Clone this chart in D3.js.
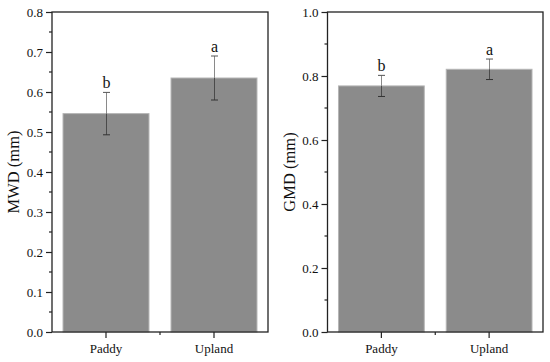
<!DOCTYPE html>
<html>
<head>
<meta charset="utf-8">
<script src="https://cdn.jsdelivr.net/npm/d3@7"></script>
<style>
  html, body { margin: 0; padding: 0; background: #fff; }
  svg { display: block; }
  svg text { font-family: "Liberation Serif", "Times New Roman", serif; fill: #111; }
</style>
</head>
<body>
<svg id="chart" width="550" height="362"></svg>
<script>
const categories = ["Paddy", "Upland"];
const mwdValues = [0.546, 0.635];
const mwdErrors = [0.053, 0.055];
const mwdLetters = ["b", "a"];
const gmdValues = [0.769, 0.821];
const gmdErrors = [0.033, 0.032];
const gmdLetters = ["b", "a"];
const mwdTicks = [0, 0.1, 0.2, 0.3, 0.4, 0.5, 0.6, 0.7, 0.8];
const gmdTicks = [0, 0.2, 0.4, 0.6, 0.8, 1.0];

const svg = d3.select("#chart");
const FONT = '"Liberation Serif", "Times New Roman", serif';

function panel(opts) {
  const {x0, x1, y0, y1, ymax, values, errors, letters, ticks, minorStep, title, titleX} = opts;
  const g = svg.append("g");
  const x = d3.scaleBand().domain(categories).range([x0, x1]).paddingInner(0.204).paddingOuter(0.102);
  const y = d3.scaleLinear().domain([0, ymax]).range([y1, y0]);

  // bars
  g.selectAll("rect.bar").data(categories).enter().append("rect")
    .attr("x", d => x(d))
    .attr("width", x.bandwidth())
    .attr("y", (d, i) => y(values[i]))
    .attr("height", (d, i) => y(0) - y(values[i]))
    .attr("fill", "#8b8b8b")
    .attr("stroke", "#b5b5b5")
    .attr("stroke-width", 1);

  // error bars
  categories.forEach((c, i) => {
    const cx = Math.round(x(c) + x.bandwidth() / 2) + 0.5;
    const top = y(values[i] + errors[i]);
    const bot = y(values[i] - errors[i]);
    const v = y(values[i]);
    g.append("line").attr("x1", cx).attr("x2", cx).attr("y1", top).attr("y2", v)
      .attr("stroke", "#8a8a8a").attr("stroke-width", 1);
    g.append("line").attr("x1", cx).attr("x2", cx).attr("y1", v).attr("y2", bot)
      .attr("stroke", "#4a4a4a").attr("stroke-width", 1);
    g.append("line").attr("x1", cx - 3.5).attr("x2", cx + 3.5).attr("y1", top).attr("y2", top)
      .attr("stroke", "#555").attr("stroke-width", 1);
    g.append("line").attr("x1", cx - 3.5).attr("x2", cx + 3.5).attr("y1", bot).attr("y2", bot)
      .attr("stroke", "#333").attr("stroke-width", 1);
    g.append("text").attr("x", cx).attr("y", top - 4)
      .attr("text-anchor", "middle").style("font-size", "16px").style("font-family", FONT).text(letters[i]);
  });

  // frame
  g.append("rect").attr("x", x0).attr("y", y0).attr("width", x1 - x0).attr("height", y1 - y0)
    .attr("fill", "none").attr("stroke", "#222").attr("stroke-width", 1.3);

  // y axis major
  const yAxis = d3.axisLeft(y).tickValues(ticks).tickSize(6).tickPadding(3)
    .tickFormat(d3.format(".1f"));
  const ya = g.append("g").attr("transform", `translate(${x0},0)`).call(yAxis);
  ya.select(".domain").remove();
  ya.style("font-size", "13px").style("font-family", FONT);
  ya.selectAll("line").attr("stroke", "#222").attr("stroke-width", 1.2);
  ya.selectAll("text").style("font-size", "13px").style("font-family", FONT).style("fill", "#111");

  // y minor ticks
  const minor = d3.range(minorStep, ymax, minorStep * 2).map(v => +v.toFixed(3));
  g.selectAll("line.minor").data(minor).enter().append("line")
    .attr("x1", x0 - 3).attr("x2", x0)
    .attr("y1", d => y(d)).attr("y2", d => y(d))
    .attr("stroke", "#222").attr("stroke-width", 1.2);

  // x axis
  const xAxis = d3.axisBottom(x).tickSize(6).tickPadding(6);
  const xa = g.append("g").attr("transform", `translate(0,${y1})`).call(xAxis);
  xa.select(".domain").remove();
  xa.style("font-size", "13px").style("font-family", FONT);
  xa.selectAll("line").attr("stroke", "#222").attr("stroke-width", 1.2);
  xa.selectAll("text").style("font-size", "13px").style("font-family", FONT).style("fill", "#111");
  // x minor tick between categories
  const mid = (x(categories[0]) + x.bandwidth() / 2 + x(categories[1]) + x.bandwidth() / 2) / 2;
  g.append("line").attr("x1", mid).attr("x2", mid).attr("y1", y1).attr("y2", y1 + 3)
    .attr("stroke", "#222").attr("stroke-width", 1.2);

  // title
  g.append("text")
    .attr("transform", `translate(${titleX},${(y0 + y1) / 2}) rotate(-90)`)
    .attr("text-anchor", "middle").style("font-size", "16.5px").style("font-family", FONT).text(title);
}

panel({x0: 52, x1: 268, y0: 12, y1: 332, ymax: 0.8, values: mwdValues, errors: mwdErrors,
  letters: mwdLetters, ticks: mwdTicks, minorStep: 0.05, title: "MWD (mm)", titleX: 19});
panel({x0: 327.5, x1: 543, y0: 12, y1: 332, ymax: 1.0, values: gmdValues, errors: gmdErrors,
  letters: gmdLetters, ticks: gmdTicks, minorStep: 0.1, title: "GMD (mm)", titleX: 295});
</script>
</body>
</html>
